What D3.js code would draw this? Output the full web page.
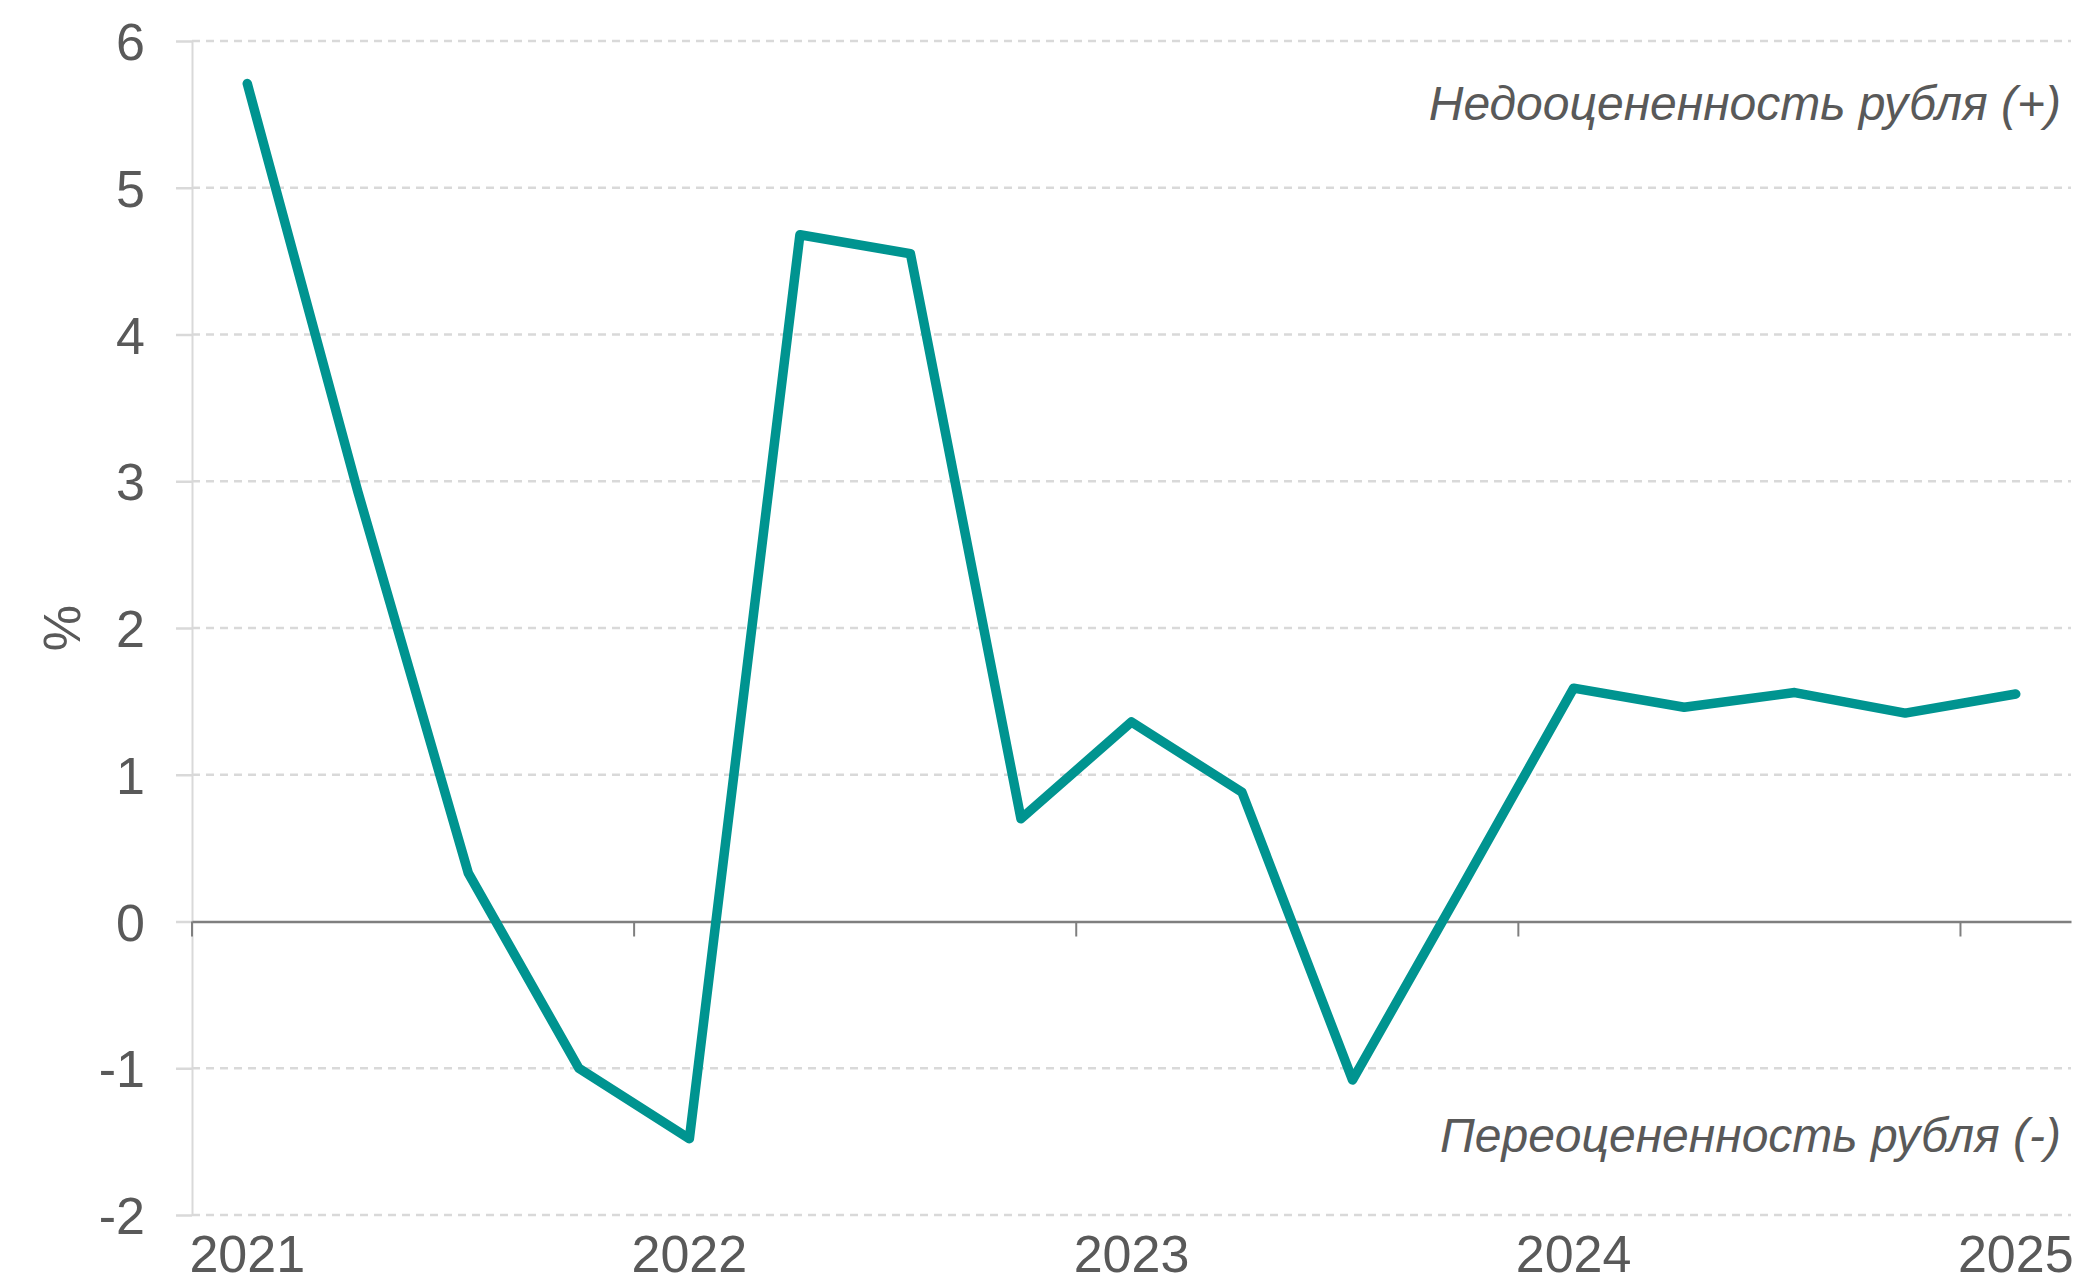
<!DOCTYPE html>
<html>
<head>
<meta charset="utf-8">
<script src="https://cdn.jsdelivr.net/npm/d3@7"></script>
<style>
  html, body { margin: 0; padding: 0; background: #ffffff; }
  svg { display: block; }
  text { font-family: "Liberation Sans", Arial, sans-serif; fill: #595959; }
</style>
</head>
<body>
<svg id="chart" width="2075" height="1283"></svg>
<script>
// Quarterly real exchange rate gap of the rouble, %
const quarters = [
  "2021Q1", "2021Q2", "2021Q3", "2021Q4",
  "2022Q1", "2022Q2", "2022Q3", "2022Q4",
  "2023Q1", "2023Q2", "2023Q3", "2023Q4",
  "2024Q1", "2024Q2", "2024Q3", "2024Q4",
  "2025Q1"
];
const gapValues = [
  5.71, 2.93, 0.33, -1.00,
  -1.48, 4.68, 4.55, 0.70,
  1.36, 0.88, -1.08, 0.25,
  1.59, 1.46, 1.56, 1.42,
  1.55
];
const yearTicks = ["2021Q1", "2022Q1", "2023Q1", "2024Q1", "2025Q1"];
const yearLabels = ["2021", "2022", "2023", "2024", "2025"];
const yTicks = [-2, -1, 0, 1, 2, 3, 4, 5, 6];
const yAxisTitle = "%";
const upperNote = "Недооцененность рубля (+)";
const lowerNote = "Переоцененность рубля (-)";

const svg = d3.select("#chart");
const plot = { left: 192, right: 2071, top: 41, bottom: 1215 };

const x = d3.scaleBand().domain(quarters).range([plot.left, plot.right]).padding(0);
const y = d3.scaleLinear().domain([-2, 6]).range([plot.bottom, plot.top]);
const cx = q => x(q) + x.bandwidth() / 2;

// Horizontal dashed gridlines (zero is drawn separately as the axis line)
svg.append("g")
  .selectAll("line")
  .data(yTicks.filter(d => d !== 0))
  .join("line")
  .attr("x1", plot.left).attr("x2", plot.right)
  .attr("y1", d => y(d)).attr("y2", d => y(d))
  .attr("stroke", "#d9d9d9")
  .attr("stroke-width", 2.5)
  .attr("stroke-dasharray", "8,6");

// Left axis: light vertical rule with short solid tick stubs
const yAxis = svg.append("g")
  .attr("transform", `translate(${plot.left},0)`)
  .call(d3.axisLeft(y).tickValues(yTicks).tickSize(16).tickSizeOuter(0).tickPadding(30)
    .tickFormat(d => String(d)));
yAxis.select(".domain").attr("stroke", "#d9d9d9").attr("stroke-width", 2);
yAxis.selectAll(".tick line").attr("stroke", "#d9d9d9").attr("stroke-width", 2.5);
yAxis.selectAll(".tick text")
  .attr("font-size", 52)
  .attr("font-family", "Liberation Sans, Arial, sans-serif")
  .attr("fill", "#595959")
  .attr("x", -47)
  .attr("dy", "0.36em");

// Zero line with year ticks
const xAxis = svg.append("g")
  .attr("transform", `translate(0,${y(0)})`)
  .call(d3.axisBottom(x).tickValues(yearTicks).tickSize(15).tickSizeOuter(0).tickFormat(""));
xAxis.select(".domain").attr("stroke", "#7f7f7f").attr("stroke-width", 2.5);
xAxis.selectAll(".tick line")
  .attr("stroke", "#7f7f7f").attr("stroke-width", 2)
  .attr("transform", d => `translate(${-x.bandwidth() / 2},0)`);
xAxis.selectAll(".tick").attr("transform", d => `translate(${cx(d)},0)`);

// Year labels under the plot, centred on each first quarter
svg.append("g")
  .selectAll("text")
  .data(yearTicks)
  .join("text")
  .attr("x", d => cx(d))
  .attr("y", 1272)
  .attr("text-anchor", "middle")
  .attr("font-size", 52)
  .text((d, i) => yearLabels[i]);

// Y axis title
svg.append("text")
  .attr("transform", `translate(80,${(plot.top + plot.bottom) / 2}) rotate(-90)`)
  .attr("text-anchor", "middle")
  .attr("font-size", 52)
  .text(yAxisTitle);

// Series line
const line = d3.line()
  .x((d, i) => cx(quarters[i]))
  .y(d => y(d));
svg.append("path")
  .datum(gapValues)
  .attr("d", line)
  .attr("fill", "none")
  .attr("stroke", "#009490")
  .attr("stroke-width", 9.5)
  .attr("stroke-linejoin", "round")
  .attr("stroke-linecap", "round");

// Notes
svg.append("text")
  .attr("x", 2061).attr("y", 120)
  .attr("text-anchor", "end")
  .attr("font-size", 48)
  .attr("font-style", "italic")
  .text(upperNote);
svg.append("text")
  .attr("x", 2061).attr("y", 1152)
  .attr("text-anchor", "end")
  .attr("font-size", 48)
  .attr("font-style", "italic")
  .text(lowerNote);
</script>
</body>
</html>
